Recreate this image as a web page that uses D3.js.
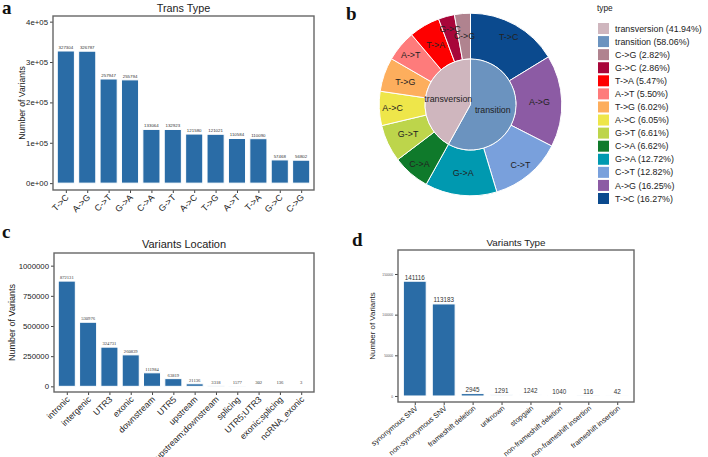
<!DOCTYPE html>
<html><head><meta charset="utf-8">
<script src="https://cdn.jsdelivr.net/npm/d3@7"></script>
<style>body{margin:0;background:#fff}svg{display:block;font-family:"Liberation Sans",Arial,sans-serif}</style>
</head><body><svg id="c" width="708" height="457"></svg>
<script>
// ---------- data ----------
const transTypes = ["T->C","A->G","C->T","G->A","C->A","G->T","A->C","T->G","A->T","T->A","G->C","C->G"];
const transCounts = [327304,326787,257947,255794,133064,132923,121580,121021,110584,110090,57468,56802];
const transYTicks = [0,100000,200000,300000,400000];
const transYLabels = ["0e+00","1e+05","2e+05","3e+05","4e+05"];

const innerGroups = ["transition","transversion"];
const innerMembers = [["T->C","A->G","C->T","G->A"],["C->A","G->T","A->C","T->G","A->T","T->A","G->C","C->G"]];

const legendNames = ["transversion","transition","C->G","G->C","T->A","A->T","T->G","A->C","G->T","C->A","G->A","C->T","A->G","T->C"];
const legendPct = [41.94,58.06,2.82,2.86,5.47,5.50,6.02,6.05,6.61,6.62,12.72,12.82,16.25,16.27];

const locCats = ["intronic","intergenic","UTR3","exonic","downstream","UTR5","upstream","upstream;downstream","splicing","UTR5;UTR3","exonic;splicing","ncRNA_exonic"];
const locCounts = [872131,530976,324731,260839,111984,63819,21136,3318,1577,302,136,3];
const locYTicks = [0,250000,500000,750000,1000000];

const vtCats = ["synonymous SNV","non-synonymous SNV","frameshift deletion","unknown","stopgain","non-frameshift deletion","non-frameshift insertion","frameshift insertion"];
const vtCounts = [141116,113183,2945,1291,1242,1040,116,42];
const vtYTicks = [0,50000,100000,150000];

// ---------- styles ----------
const barColor = "#2a6ca6";
const colorOf = {
  "transversion":"#cfb6be","transition":"#6b93bf",
  "C->G":"#b0838f","G->C":"#a8063a","T->A":"#fe0000","A->T":"#fe7b7b",
  "T->G":"#fdae5d","A->C":"#eee64a","G->T":"#bdd54b","C->A":"#0f7a2b",
  "G->A":"#0099b0","C->T":"#79a0dc","A->G":"#8c5ba4","T->C":"#0b4a8e"
};

const svg = d3.select("#c");

function barPanel(o){
  const g = svg.append("g");
  const n = o.cats.length;
  const x = d3.scaleLinear().domain([-o.pad, n-1+o.pad]).range([o.L,o.R]);
  const y = d3.scaleLinear().domain(o.ydom).range([o.B,o.T]);
  const bw = x(o.bw)-x(0);
  g.selectAll("rect.bar").data(o.vals).join("rect").attr("class","bar")
    .attr("x",(d,i)=>x(i)-bw/2).attr("width",bw)
    .attr("y",d=>y(d)).attr("height",d=>Math.max(0,y(0)-y(d)))
    .attr("fill",barColor).attr("stroke","#fff").attr("stroke-width",o.sw||1);
  g.selectAll("text.val").data(o.vals).join("text").attr("class","val")
    .attr("x",(d,i)=>x(i)).attr("y",d=>y(d)-o.valOff)
    .attr("text-anchor","middle").attr("font-size",o.valFs).attr("fill","#333")
    .attr("font-family",o.valFont||null)
    .text(d=>d);
  // y axis
  const ya = d3.axisLeft(y).tickValues(o.yticks).tickSize(3).tickPadding(2)
    .tickFormat((d,i)=>o.ylabels?o.ylabels[i]:d);
  const yg = g.append("g").attr("transform",`translate(${o.L},0)`).call(ya);
  yg.select(".domain").remove();
  yg.selectAll("line").attr("stroke","#444");
  yg.selectAll("text").attr("font-size",o.yFs).attr("fill",o.yCol||"#222").attr("font-family","Liberation Sans, Arial, sans-serif");
  // x axis
  const xa = d3.axisBottom(x).tickValues(d3.range(n)).tickSize(3).tickPadding(2)
    .tickFormat(i=>o.cats[i]);
  const xg = g.append("g").attr("transform",`translate(0,${o.B})`).call(xa);
  xg.select(".domain").remove();
  xg.selectAll("line").attr("stroke","#444");
  xg.selectAll("text").attr("font-size",o.xFs).attr("fill","#222")
    .attr("font-family","Liberation Sans, Arial, sans-serif")
    .attr("text-anchor","end").attr("dy",null).attr("y",null)
    .attr("transform",`translate(3,${o.xOff}) rotate(${-o.rot})`);
  // frame
  g.append("rect").attr("x",o.L).attr("y",o.T).attr("width",o.R-o.L).attr("height",o.B-o.T)
    .attr("fill","none").attr("stroke","#666").attr("stroke-width",1.4);
  // title
  g.append("text").attr("x",(o.L+o.R)/2).attr("y",o.titleY).attr("text-anchor","middle")
    .attr("font-size",o.titleFs).attr("fill","#222").text(o.title);
  // y label
  g.append("text").attr("transform",`translate(${o.ylabX},${(o.T+o.B)/2}) rotate(-90)`)
    .attr("text-anchor","middle").attr("font-size",o.ylabFs).attr("fill","#222").text("Number of Variants");
}

barPanel({cats:transTypes, vals:transCounts, L:53,R:314,T:16,B:190, pad:0.6, bw:0.8,
  ydom:[-17000,414000], yticks:transYTicks, ylabels:transYLabels, yFs:7.8, xFs:8.8, rot:45, xOff:8,
  valFs:4.4, valOff:2, title:"Trans Type", titleY:12, titleFs:10.8, ylabX:25, ylabFs:8.6});

barPanel({cats:locCats, vals:locCounts, L:54,R:314,T:253,B:392, pad:0.6, bw:0.8,
  ydom:[-47000,1105000], yticks:locYTicks, yFs:7.8, xFs:8.7, rot:45, xOff:8,
  valFs:4.6, valOff:2, valFont:"Liberation Serif, serif", title:"Variants Location", titleY:248, titleFs:11, ylabX:15, ylabFs:9});

barPanel({cats:vtCats, vals:vtCounts, L:398,R:634,T:250,B:402, pad:0.58, bw:0.79,
  ydom:[-7400,179500], yticks:vtYTicks, yFs:3.2, yCol:"#555", xFs:7.3, rot:40, xOff:7,
  valFs:6.3, valOff:1.5, title:"Variants Type", titleY:246, titleFs:9.8, ylabX:375, ylabFs:7.9});

// ---------- pie (b) ----------
const cx = 470.5, cy = 104.5, rIn = 45.5, rOut = 91.3;
const pg = svg.append("g").attr("transform",`translate(${cx},${cy})`);
const pie = d3.pie().sort(null).value(d=>d.v);
const outerData = pie(transTypes.map((t,i)=>({k:t,v:transCounts[i]})));
const innerData = pie(innerGroups.map((gname,gi)=>({k:gname,v:d3.sum(innerMembers[gi],m=>transCounts[transTypes.indexOf(m)])})));
const arcO = d3.arc().innerRadius(rIn).outerRadius(rOut);
const arcI = d3.arc().innerRadius(0).outerRadius(rIn);
pg.selectAll("path.o").data(outerData).join("path").attr("class","o").attr("d",arcO)
  .attr("fill",d=>colorOf[d.data.k]).attr("stroke","#fff").attr("stroke-width",1);
pg.selectAll("path.i").data(innerData).join("path").attr("class","i").attr("d",arcI)
  .attr("fill",d=>colorOf[d.data.k]).attr("stroke","#fff").attr("stroke-width",1);
const labR = [78,69];
pg.selectAll("text.o").data(outerData).join("text").attr("class","o")
  .attr("transform",(d,i)=>{const a=(d.startAngle+d.endAngle)/2, r=labR[i%2];return `translate(${r*Math.sin(a)},${-r*Math.cos(a)})`;})
  .attr("text-anchor","middle").attr("dy","0.35em").attr("font-size",8.9).attr("fill","#222")
  .text(d=>d.data.k);
pg.selectAll("text.i").data(innerData).join("text").attr("class","i")
  .attr("transform",d=>{const a=(d.startAngle+d.endAngle)/2, r=23;return `translate(${r*Math.sin(a)},${-r*Math.cos(a)})`;})
  .attr("text-anchor","middle").attr("dy","0.35em").attr("font-size",8.8).attr("fill","#222")
  .text(d=>d.data.k);

// legend
const lg = svg.append("g").attr("transform","translate(597,0)");
lg.append("text").attr("x",0).attr("y",11).attr("font-size",8.3).attr("fill","#222").text("type");
const ly = d3.scalePoint().domain(d3.range(legendNames.length)).range([23,193]);
lg.selectAll("rect").data(legendNames).join("rect")
  .attr("x",1).attr("y",(d,i)=>ly(i)).attr("width",11).attr("height",11)
  .attr("fill",d=>colorOf[d]);
lg.selectAll("text.l").data(legendNames).join("text").attr("class","l")
  .attr("x",18).attr("y",(d,i)=>ly(i)+5.5).attr("dy","0.35em").attr("font-size",8.9).attr("fill","#222")
  .text((d,i)=>`${d} (${legendPct[i].toFixed(2)}%)`);

// panel letters
const letters = [["a",2,13.5],["b",346,20],["c",2,238],["d",352,246]];
svg.selectAll("text.letter").data(letters).join("text").attr("class","letter")
  .attr("x",d=>d[1]).attr("y",d=>d[2]).attr("font-family","Liberation Serif, serif")
  .attr("font-weight","bold").attr("font-size",19).attr("fill","#111").text(d=>d[0]);
</script></body></html>
